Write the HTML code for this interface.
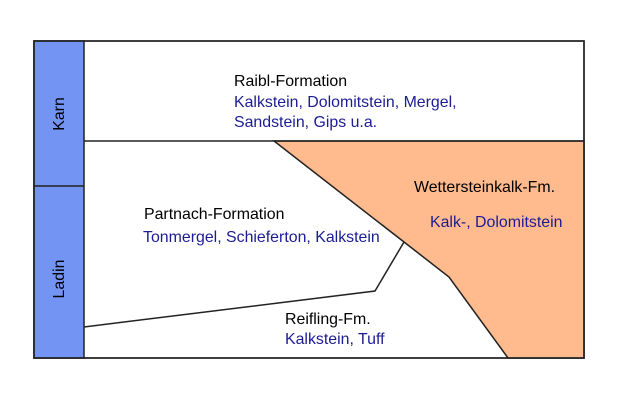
<!DOCTYPE html>
<html><head><style>
body{margin:0;background:#fff;}
svg text{font-family:"Liberation Sans",Arial,sans-serif;font-size:15.9px;}
.b{fill:#1c1c94}
</style></head><body>
<svg width="630" height="408" viewBox="0 0 630 408" xmlns="http://www.w3.org/2000/svg">
<rect x="34" y="41" width="550" height="317" fill="#fff" stroke="#222" stroke-width="1.5"/>
<rect x="34" y="41" width="50" height="317" fill="#7394f2" stroke="#222" stroke-width="1.5"/>
<line x1="34" y1="186" x2="84" y2="186" stroke="#222" stroke-width="1.5"/>
<polygon points="274,141 584,141 584,358 508,358 449,277 404,242" fill="#ffbb8e" stroke="#222" stroke-width="1.5"/>
<line x1="84" y1="141" x2="584" y2="141" stroke="#222" stroke-width="1.5"/>
<polyline points="84,327 375,291 404,242" fill="none" stroke="#222" stroke-width="1.5"/>
<rect x="34" y="41" width="550" height="317" fill="none" stroke="#222" stroke-width="1.5"/>
<text transform="translate(64,114) rotate(-90)" text-anchor="middle">Karn</text>
<text transform="translate(64,279) rotate(-90)" text-anchor="middle">Ladin</text>
<text x="234" y="86">Raibl-Formation</text>
<text x="234" y="107" class="b">Kalkstein, Dolomitstein, Mergel,</text>
<text x="234" y="127" class="b">Sandstein, Gips u.a.</text>
<text x="144" y="219">Partnach-Formation</text>
<text x="143" y="242" class="b">Tonmergel, Schieferton, Kalkstein</text>
<text x="414" y="192">Wettersteinkalk-Fm.</text>
<text x="430" y="227" class="b">Kalk-, Dolomitstein</text>
<text x="285" y="324">Reifling-Fm.</text>
<text x="285" y="344" class="b">Kalkstein, Tuff</text>
</svg>
</body></html>
